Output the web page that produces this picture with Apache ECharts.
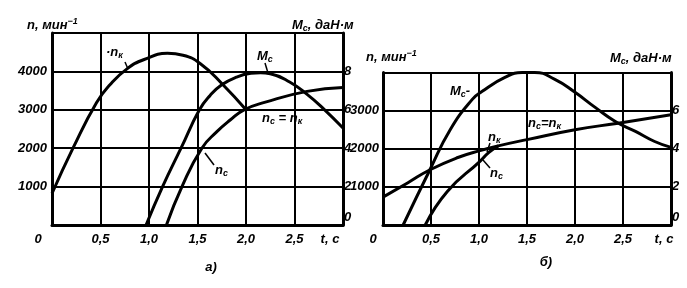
<!DOCTYPE html>
<html><head><meta charset="utf-8">
<script src="https://cdn.jsdelivr.net/npm/echarts@6/dist/echarts.min.js"></script>
<style>html,body{margin:0;padding:0;background:#fff}#c{width:687px;height:288px}</style>
</head><body><div id="c"></div>
<script>
// ---- tick labels ----
const xTicks = [0, 0.5, 1.0, 1.5, 2.0, 2.5, 3.0];
const xTickLabels = ['0', '0,5', '1,0', '1,5', '2,0', '2,5', 't, c'];
const nTicksA = [1000, 2000, 3000, 4000];
const mTicksA = [0, 2, 4, 6, 8];
const nTicksB = [1000, 2000, 3000];
const mTicksB = [0, 2, 4, 6];

// ---- chart а) ----
const tA_nk = [0, 0.22, 0.46, 0.6, 0.77, 0.95, 1.19, 1.35, 1.53, 1.76, 2.0];
const nA_nk = [820, 2020, 3190, 3660, 4060, 4310, 4470, 4420, 4200, 3660, 3000];
const tA_nc = [1.18, 1.34, 1.545, 1.70, 1.84, 1.98, 2.2, 2.63, 3.0];
const nA_nc = [0, 1000, 2000, 2430, 2740, 3000, 3200, 3480, 3580];
const tA_Mc = [0.97, 1.14, 1.33, 1.52, 1.63, 1.75, 1.9, 2.05, 2.15, 2.25, 2.45, 2.63, 2.8, 3.0];
const mA_Mc = [0, 2.0, 4.0, 6.0, 6.75, 7.3, 7.7, 7.9, 7.93, 7.88, 7.45, 6.8, 6.05, 5.05];

// ---- chart б) ----
const tB_nk = [0, 0.26, 0.49, 0.78, 1.01, 1.2, 1.5, 2.0, 2.45, 3.0];
const nB_nk = [730, 1110, 1450, 1770, 1950, 2075, 2240, 2500, 2670, 2890];
const tB_nc = [0.44, 0.67, 1.01, 1.1, 1.2];
const nB_nc = [0, 880, 1670, 1900, 2075];
const tB_Mc = [0.21, 0.49, 0.70, 0.93, 1.03, 1.27, 1.45, 1.58, 1.79, 2.0, 2.21, 2.42, 2.63, 2.83, 3.0];
const mB_Mc = [0, 2.91, 5.0, 6.59, 7.0, 7.74, 8.0, 8.0, 7.64, 6.96, 6.17, 5.43, 4.91, 4.38, 4.07];

const zip = (a, b) => a.map((v, i) => [v, b[i]]);
const F = {fontFamily: 'Liberation Sans', fontStyle: 'italic', fontWeight: 'bold', color: '#000'};
const rich = {
  b: Object.assign({}, F, {fontSize: 13}),
  sub: Object.assign({}, F, {fontSize: 9, padding: [7, 0, 0, 0]}),
  sup: Object.assign({}, F, {fontSize: 9, padding: [0, 0, 7, 0]}),
  z: Object.assign({}, F, {fontSize: 13, padding: [0, 0, 16, 0]}),
  a0: Object.assign({}, F, {fontSize: 13, padding: [0, 28, 0, 0]}),
  al: Object.assign({}, F, {fontSize: 13, padding: [0, 26, 0, 0]}),
  b0: Object.assign({}, F, {fontSize: 13, padding: [0, 20, 0, 0]}),
  bl: Object.assign({}, F, {fontSize: 13, padding: [0, 14, 0, 0]})
};
const axLine = {show: true, lineStyle: {color: '#000', width: 3}};
const split = {show: true, lineStyle: {color: '#000', width: 2}};
const findIdx = v => xTicks.findIndex(t => Math.abs(t - v) < 1e-6);

function xAxisFor(g, firstKey, lastKey) {
  return {
    type: 'value', gridIndex: g, min: 0, max: 3, interval: 0.5,
    axisLine: axLine, axisTick: {show: false}, splitLine: split,
    axisLabel: Object.assign({}, F, {
      fontSize: 13, margin: 8, showMinLabel: true, showMaxLabel: true, rich: rich,
      formatter: v => {
        const i = findIdx(v); if (i < 0) return '';
        const s = xTickLabels[i];
        if (i === 0) return '{' + firstKey + '|' + s + '}';
        if (i === xTicks.length - 1) return '{' + lastKey + '|' + s + '}';
        return s;
      }
    })
  };
}
function yLeft(g, max, ticks, margin) {
  return {
    type: 'value', gridIndex: g, position: 'left', min: 0, max: max, interval: 1000,
    axisLine: axLine, axisTick: {show: false}, splitLine: split,
    axisLabel: Object.assign({}, F, {fontSize: 13, margin: margin,
      formatter: v => ticks.includes(v) ? String(v) : ''})
  };
}
function yRight(g, max, ticks) {
  return {
    type: 'value', gridIndex: g, position: 'right', min: 0, max: max, interval: 2,
    axisLine: axLine, axisTick: {show: false}, splitLine: {show: false},
    axisLabel: Object.assign({}, F, {fontSize: 13, margin: 1, rich: rich,
      showMinLabel: true,
      formatter: v => v === 0 ? '{z|0}' : (ticks.includes(v) ? String(v) : '')})
  };
}
const curve = (data, xi, yi) => ({
  type: 'line', xAxisIndex: xi, yAxisIndex: yi, data: data, smooth: 0.5,
  symbol: 'none', lineStyle: {color: '#000', width: 3}, silent: true, animation: false
});
const txt = (x, y, text, align) => ({
  type: 'text', x: x, y: y, silent: true,
  style: Object.assign({}, F, {text: text, fontSize: 13, rich: rich,
    align: align || 'left', verticalAlign: 'middle'})
});
const seg = (x1, y1, x2, y2) => ({
  type: 'line', silent: true, shape: {x1: x1, y1: y1, x2: x2, y2: y2},
  style: {stroke: '#000', lineWidth: 1.5}
});

const chart = echarts.init(document.getElementById('c'), null, {renderer: 'canvas'});
chart.setOption({
  animation: false,
  backgroundColor: '#fff',
  grid: [
    {left: 52, top: 33, width: 291, height: 192, containLabel: false, outerBoundsMode: 'none'},
    {left: 383, top: 72.5, width: 288, height: 152.5, containLabel: false, outerBoundsMode: 'none'}
  ],
  xAxis: [xAxisFor(0, 'a0', 'al'), xAxisFor(1, 'b0', 'bl')],
  yAxis: [yLeft(0, 5000, nTicksA, 5), yRight(0, 10, mTicksA), yLeft(1, 4000, nTicksB, 4), yRight(1, 8, mTicksB)],
  series: [
    curve(zip(tA_nk, nA_nk), 0, 0),
    curve(zip(tA_nc, nA_nc), 0, 0),
    curve(zip(tA_Mc, mA_Mc), 0, 1),
    curve(zip(tB_nk, nB_nk), 1, 2),
    curve(zip(tB_nc, nB_nc), 1, 2),
    curve(zip(tB_Mc, mB_Mc), 1, 3)
  ],
  graphic: [
    txt(27, 25, '{b|n, мин}{sup|−1}'),
    txt(292, 25, '{b|M}{sub|c}{b|, даН·м}'),
    txt(366, 57, '{b|n, мин}{sup|−1}'),
    txt(610, 58, '{b|M}{sub|c}{b|, даН·м}'),
    txt(211, 267, 'а)', 'center'),
    txt(546, 262, 'б)', 'center'),
    txt(106, 52, '{b|·n}{sub|к}'),
    seg(125, 62, 128, 69),
    txt(257, 56, '{b|M}{sub|c}'),
    seg(265, 63, 268, 73),
    txt(262, 118, '{b|n}{sub|c}{b| = n}{sub|к}'),
    txt(215, 170, '{b|n}{sub|c}'),
    seg(205, 153, 214, 165),
    txt(450, 91, '{b|M}{sub|c}{b|-}'),
    txt(488, 137, '{b|n}{sub|к}'),
    seg(490, 143, 487, 152),
    txt(490, 173, '{b|n}{sub|c}'),
    seg(483, 160, 490, 168),
    txt(528, 123, '{b|n}{sub|c}{b|=n}{sub|к}')
  ]
});
</script>
</body></html>
